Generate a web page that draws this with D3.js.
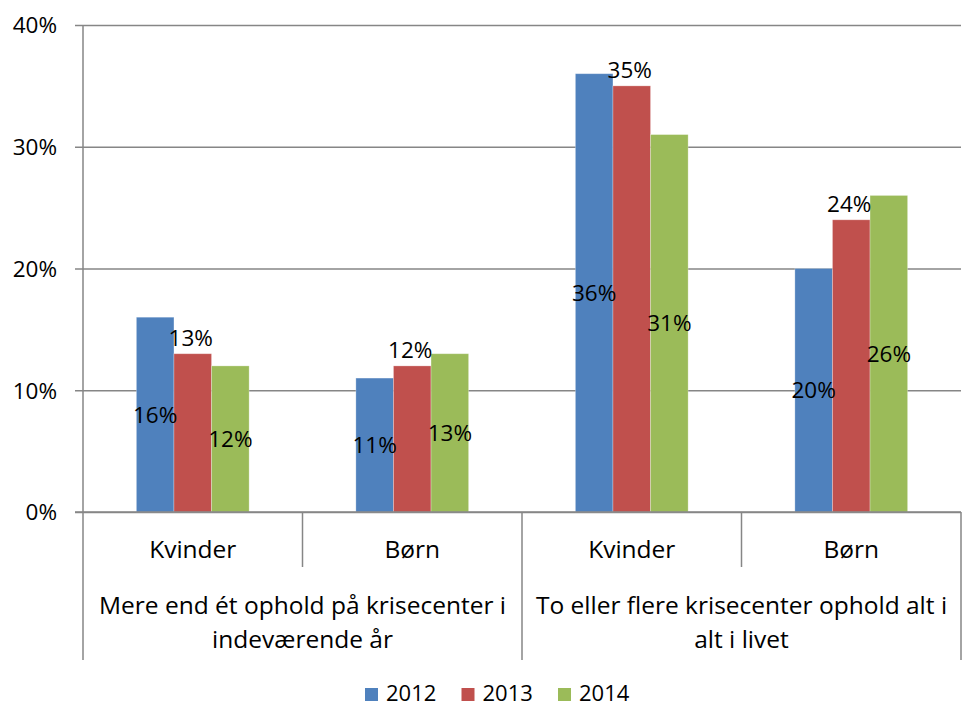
<!DOCTYPE html>
<html>
<head>
<meta charset="utf-8">
<script src="https://cdn.jsdelivr.net/npm/d3@7"></script>
<style>
  body { margin: 0; background: #fff; }
  text { font-family: "Open Sans", "Noto Sans", sans-serif; fill: #000; }
</style>
</head>
<body>
<div id="chart"></div>
<script>
"use strict";

// data
const groups = ["Mere end ét ophold på krisecenter i indeværende år", "To eller flere krisecenter ophold alt i alt i livet"];
const groupLines = [["Mere end ét ophold på krisecenter i", "indeværende år"], ["To eller flere krisecenter ophold alt i", "alt i livet"]];
const subCats = ["Kvinder", "Børn", "Kvinder", "Børn"];
const catGroup = [0, 0, 1, 1];
const series = ["2012", "2013", "2014"];
const v2012 = [16, 11, 36, 20];
const v2013 = [13, 12, 35, 24];
const v2014 = [12, 13, 31, 26];
const yTicks = [0, 10, 20, 30, 40];
const colors = ["#4F81BD", "#C0504D", "#9BBB59"];
const labelPos = ["center", "outside", "center"]; // where excel put the data labels

const W = 962, H = 706;
const m = {left: 83, right: 1, top: 25, bottom: 194};
const values = [v2012, v2013, v2014];

const svg = d3.select("#chart").append("svg")
  .attr("width", W).attr("height", H);

const x0 = d3.scaleBand().domain(d3.range(subCats.length)).range([m.left, W - m.right]);
const x1 = d3.scaleBand().domain(series).range([0, x0.bandwidth()]).paddingOuter(1.42);
const y = d3.scaleLinear().domain([0, 40]).range([H - m.bottom, m.top]);

// gridlines + y ticks
const yAxis = d3.axisLeft(y).tickValues(yTicks).tickFormat(d => d + "%")
  .tickSize(-(W - m.right - m.left + 8)).tickPadding(18);
const gy = svg.append("g").attr("transform", `translate(${m.left - 8},0)`).call(yAxis);
gy.select(".domain").remove();
gy.selectAll(".tick line").attr("stroke", "#868686").attr("stroke-width", 1.5)
  .attr("x1", 0).attr("x2", W - m.right - m.left + 8);
gy.selectAll(".tick text").attr("font-size", 22.5).attr("x", -18).attr("dy", "0.35em");

// y axis line
svg.append("line").attr("x1", m.left).attr("x2", m.left)
  .attr("y1", m.top).attr("y2", y(0)).attr("stroke", "#868686").attr("stroke-width", 1.5);

// bars
const rows = [];
subCats.forEach((c, i) => series.forEach((s, j) => rows.push({i, s, j, v: values[j][i]})));

svg.append("g").selectAll("rect").data(rows).join("rect")
  .attr("x", d => x0(d.i) + x1(d.s))
  .attr("y", d => y(d.v))
  .attr("width", x1.bandwidth())
  .attr("height", d => y(0) - y(d.v))
  .attr("fill", d => colors[d.j])
  .attr("stroke", "#fff").attr("stroke-opacity", 0.35).attr("stroke-width", 0.8);

// data labels
svg.append("g").selectAll("text").data(rows).join("text")
  .attr("x", d => x0(d.i) + x1(d.s) + x1.bandwidth() / 2 - (labelPos[d.j] == "outside" ? 2 : 0))
  .attr("y", d => labelPos[d.j] == "center" ? (y(d.v) + y(0)) / 2 : y(d.v) - 8)
  .attr("dy", d => labelPos[d.j] == "center" ? "0.36em" : 0)
  .attr("text-anchor", "middle").attr("font-size", 22.5)
  .text(d => d.v + "%");

// category axis
const axisY = y(0);
svg.append("line").attr("x1", m.left - 8).attr("x2", W - m.right)
  .attr("y1", axisY).attr("y2", axisY).attr("stroke", "#868686").attr("stroke-width", 1.5);

const bounds = d3.range(subCats.length + 1).map(i => i < subCats.length ? x0(i) : x0(i - 1) + x0.bandwidth());
svg.append("g").selectAll("line").data(bounds).join("line")
  .attr("x1", d => d).attr("x2", d => d)
  .attr("y1", axisY)
  .attr("y2", (d, i) => (i % 2 == 0) ? 660 : 567)
  .attr("stroke", "#868686").attr("stroke-width", 1.5);

svg.append("g").selectAll("text").data(subCats).join("text")
  .attr("x", (d, i) => x0(i) + x0.bandwidth() / 2)
  .attr("y", 558)
  .attr("text-anchor", "middle").attr("font-size", 24.5)
  .text(d => d);

const gl = svg.append("g").selectAll("g").data(groups).join("g");
gl.each(function(g, gi) {
  const idx = catGroup.map((c, i) => c == gi ? i : -1).filter(i => i >= 0);
  const cx = (x0(idx[0]) + x0(idx[idx.length - 1]) + x0.bandwidth()) / 2;
  d3.select(this).selectAll("text").data(groupLines[gi]).join("text")
    .attr("x", cx).attr("y", (d, k) => 614 + k * 34)
    .attr("text-anchor", "middle").attr("font-size", 24.5)
    .text(d => d);
});

// legend
const lg = svg.append("g").attr("transform", "translate(365,688)");
const li = lg.selectAll("g").data(series).join("g")
  .attr("transform", (d, i) => `translate(${i * 96.5},0)`);
li.append("rect").attr("width", 13).attr("height", 13).attr("fill", (d, i) => colors[i]);
li.append("text").attr("x", 21).attr("y", 13).attr("font-size", 22).text(d => d);
</script>
</body>
</html>
